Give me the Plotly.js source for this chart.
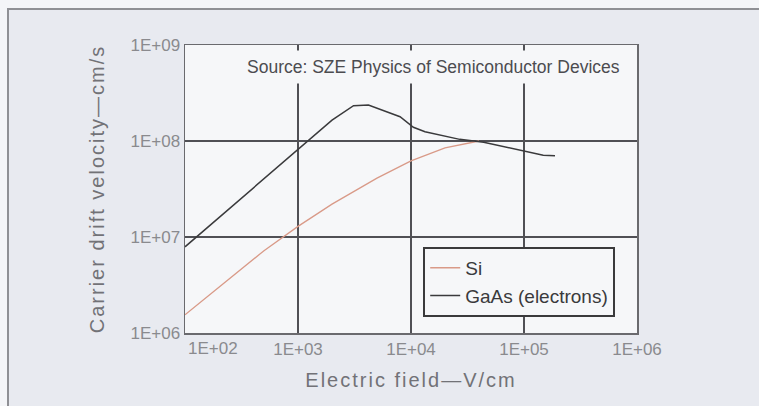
<!DOCTYPE html>
<html>
<head>
<meta charset="utf-8">
<script src="https://cdn.plot.ly/plotly-3.0.1.min.js"></script>
<style>
  html, body { margin: 0; padding: 0; background: #f4f5f8; }
  #wrap { position: relative; width: 759px; height: 406px; overflow: hidden; background: #f4f5f8; }
  #frame { position: absolute; left: 7px; top: 8px; width: 760px; height: 410px;
           background: #e8eaf0; border-left: 2px solid #8f9095; border-top: 2px solid #8f9095; box-sizing: border-box; }
  #chart { position: absolute; left: 0; top: 0; width: 759px; height: 406px; }
  #chart .g-xtitle text, #chart .g-ytitle text { letter-spacing: 2px; }
</style>
</head>
<body>
<div id="wrap">
  <div id="frame"></div>
  <div id="chart"></div>
</div>
<script>
// ---- data ----
const fieldSi = [100, 200, 500, 1000, 2000, 5000, 10000, 20000, 40000];
const velSi   = [1.55e6, 3.0e6, 7.2e6, 1.29e7, 2.2e7, 4.1e7, 6.2e7, 8.5e7, 1.0e8];

const fieldGaAs = [100, 2000, 3100, 4200, 8000, 10500, 13300, 27000, 44000, 102000, 148000, 188000];
const velGaAs   = [7.9e6, 1.65e8, 2.33e8, 2.37e8, 1.79e8, 1.39e8, 1.25e8, 1.04e8, 9.7e7, 7.9e7, 7.1e7, 7.0e7];

const xTickVals = [100, 1000, 10000, 100000, 1000000];
const xTickText = ['1E+02', '1E+03', '1E+04', '1E+05', '1E+06'];
const yTickVals = [1e6, 1e7, 1e8, 1e9];
const yTickText = ['1E+06', '1E+07', '1E+08', '1E+09'];

const seriesNames = ['Si', 'GaAs (electrons)'];
const sourceText = 'Source: SZE Physics of Semiconductor Devices';
const xTitle = 'Electric field\u2014V/cm';
const yTitle = 'Carrier drift velocity\u2014cm/s';

const plotBg = '#f6f7f9';
const tickFont = {family: 'Liberation Sans, Arial, sans-serif', size: 17, color: '#8a8a8e'};
const titleFont = {family: 'Liberation Sans, Arial, sans-serif', size: 20, color: '#727277'};

const traces = [
  {x: fieldSi, y: velSi, name: seriesNames[0], mode: 'lines', legendgroup: 'a',
   line: {color: '#d99a88', width: 1.3}},
  {x: fieldGaAs, y: velGaAs, name: seriesNames[1], mode: 'lines', legendgroup: 'b',
   line: {color: '#3a3a3c', width: 1.5}}
];

// first x label is drawn shifted to the right of its gridline, as in the reference
const xTickTextShown = xTickText.map((t, i) => i === 0 ? '' : t);

const layout = {
  width: 759, height: 406,
  margin: {l: 185, r: 122, t: 45, b: 73},
  paper_bgcolor: 'rgba(0,0,0,0)',
  plot_bgcolor: plotBg,
  showlegend: true,
  legend: {
    x: 0.527, y: 0.299, xanchor: 'left', yanchor: 'top',
    bgcolor: plotBg, bordercolor: '#3a3a3c', borderwidth: 2,
    font: {family: 'Liberation Sans, Arial, sans-serif', size: 19, color: '#3a3a3c'},
    tracegroupgap: 0, traceorder: 'grouped', entrywidth: 155
  },
  xaxis: {
    type: 'log', range: [2, 6],
    tickmode: 'array', tickvals: xTickVals, ticktext: xTickTextShown,
    tickfont: tickFont, ticks: '',
    showgrid: true, gridcolor: '#505055', gridwidth: 1.5,
    showline: true, mirror: true, linecolor: '#6a6a6e', linewidth: 1.5,
    zeroline: false, fixedrange: true,
    title: {text: xTitle, font: titleFont, standoff: 15}
  },
  yaxis: {
    type: 'log', range: [6, 9],
    tickmode: 'array', tickvals: yTickVals, ticktext: yTickText,
    tickfont: tickFont, ticks: '',
    showgrid: true, gridcolor: '#505055', gridwidth: 1.5,
    showline: true, mirror: true, linecolor: '#6a6a6e', linewidth: 1.5,
    zeroline: false, fixedrange: true,
    title: {text: yTitle, font: titleFont, standoff: 20}
  },
  annotations: [
    {text: sourceText, xref: 'paper', yref: 'paper', x: 0.549, y: 0.922,
     xanchor: 'center', yanchor: 'middle', showarrow: false,
     bgcolor: plotBg, borderpad: 6,
     font: {family: 'Liberation Sans, Arial, sans-serif', size: 17.5, color: '#4c4c50'}},
    {text: xTickText[0], xref: 'x', yref: 'paper', x: Math.log10(xTickVals[0]), y: 0,
     xanchor: 'left', yanchor: 'top', xshift: 1, yshift: -4, showarrow: false,
     font: tickFont}
  ]
};

Plotly.newPlot('chart', traces, layout, {displayModeBar: false, staticPlot: true});
</script>
</body>
</html>
